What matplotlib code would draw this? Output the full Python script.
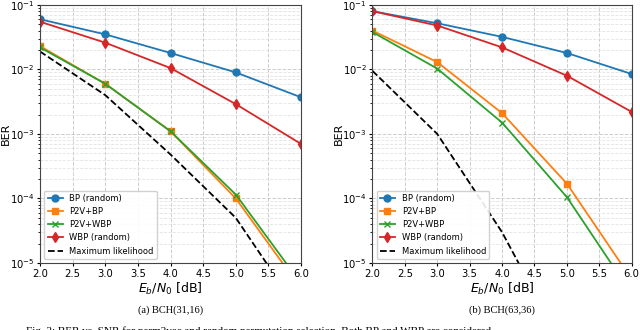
import numpy as np
import matplotlib
matplotlib.use('Agg')
import matplotlib.pyplot as plt

snr = [2.0, 3.0, 4.0, 5.0, 6.0]

# BCH(31,16)
bp_a = [0.060, 0.035, 0.018, 0.0090, 0.0037]
p2v_bp_a = [0.023, 0.0060, 0.0011, 0.00010, 0.0000040]
p2v_wbp_a = [0.022, 0.0060, 0.0011, 0.000115, 0.0000048]
wbp_a = [0.055, 0.026, 0.0105, 0.0029, 0.00070]
ml_a = [0.019, 0.0040, 0.00048, 0.000050, 0.0000016]

# BCH(63,36)
bp_b = [0.080, 0.052, 0.032, 0.018, 0.0085]
p2v_bp_b = [0.040, 0.013, 0.0021, 0.00017, 0.0000056]
p2v_wbp_b = [0.038, 0.0103, 0.0015, 0.000105, 0.0000033]
wbp_b = [0.080, 0.048, 0.022, 0.0080, 0.0022]
ml_b = [0.0095, 0.0010, 0.000030, 0.00000040, 0.000000010]

xticks = [2.0, 2.5, 3.0, 3.5, 4.0, 4.5, 5.0, 5.5, 6.0]
captions = ['(a) BCH(31,16)', '(b) BCH(63,36)']


def draw(ax, bp, p2v_bp, p2v_wbp, wbp, ml):
    ax.semilogy(snr, bp, '-o', color='tab:blue', lw=1.3, ms=5, label='BP (random)')
    ax.semilogy(snr, p2v_bp, '-s', color='tab:orange', lw=1.3, ms=5, label='P2V+BP')
    ax.semilogy(snr, p2v_wbp, '-x', color='tab:green', lw=1.3, ms=5, label='P2V+WBP')
    ax.semilogy(snr, wbp, '-d', color='tab:red', lw=1.3, ms=5, label='WBP (random)')
    ax.semilogy(snr, ml, '--', color='black', lw=1.3, label='Maximum likelihood')
    ax.set_xlim(2.0, 6.0)
    ax.set_ylim(1e-5, 1e-1)
    ax.set_xticks(xticks)
    ax.grid(True, which='major', ls='--', color='#cccccc', lw=0.7)
    ax.grid(True, which='minor', axis='y', ls='--', color='#e3e3e3', lw=0.6)
    ax.tick_params(which='major', labelsize=7.2, length=2, pad=2)
    ax.tick_params(which='minor', length=1.2)
    ax.set_xlabel(r'$E_b/N_0$ [dB]', fontsize=9, labelpad=2)
    ax.set_ylabel('BER', fontsize=8)
    ax.yaxis.set_label_coords(-0.112, 0.5)
    ax.legend(loc='lower left', fontsize=6, framealpha=0.9,
              borderpad=0.4, labelspacing=0.5, handlelength=1.8)
    for s in ax.spines.values():
        s.set_color('#444444')


fig = plt.figure(figsize=(6.4, 3.3), dpi=100)
ax1 = fig.add_axes([0.0625, 0.203, 0.408, 0.782])
ax2 = fig.add_axes([0.582, 0.203, 0.405, 0.782])
draw(ax1, bp_a, p2v_bp_a, p2v_wbp_a, wbp_a, ml_a)
draw(ax2, bp_b, p2v_bp_b, p2v_wbp_b, wbp_b, ml_b)

fig.text(0.266, 1 - 310 / 330, captions[0], ha='center', va='center',
         family='Liberation Serif', fontsize=7.5)
fig.text(0.784, 1 - 310 / 330, captions[1], ha='center', va='center',
         family='Liberation Serif', fontsize=7.5)
fig.text(0.04, 1 - 326.5 / 330,
         'Fig. 3: BER vs. SNR for perm2vec and random permutation selection. Both BP and WBP are considered',
         ha='left', va='top', family='Liberation Serif', fontsize=8)

fig.savefig('out.png', dpi=100)
